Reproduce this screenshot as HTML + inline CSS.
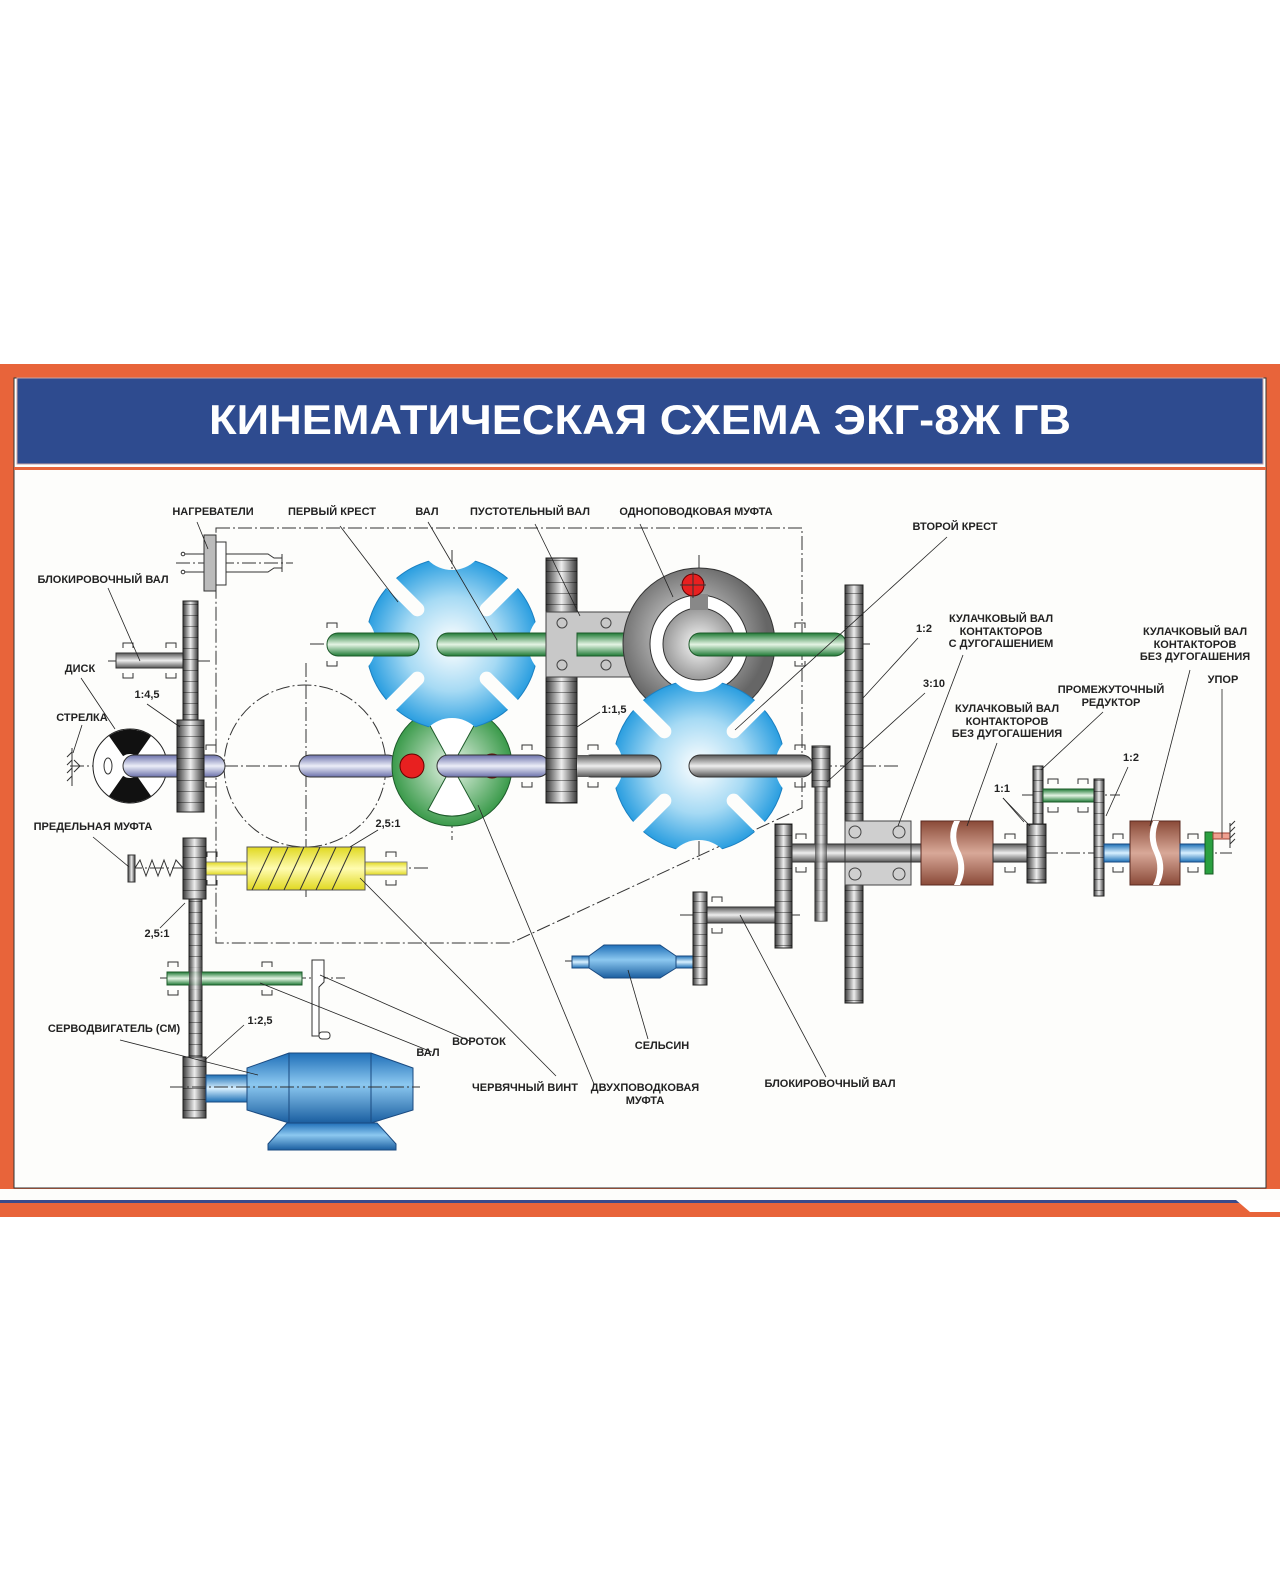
<!DOCTYPE html>
<html><head><meta charset="utf-8"><style>
html,body{margin:0;padding:0;background:#fff}
svg{display:block}
text{font-family:"Liberation Sans",Arial,sans-serif;font-weight:bold;font-size:11px;fill:#222}
</style></head><body>
<svg width="1280" height="1581" viewBox="0 0 1280 1581" xmlns="http://www.w3.org/2000/svg">
<defs>
<linearGradient id="gG" x1="0" y1="0" x2="1" y2="0"><stop offset="0" stop-color="#3a3a3a"/><stop offset=".5" stop-color="#eeeeee"/><stop offset="1" stop-color="#3a3a3a"/></linearGradient>
<pattern id="teeth" patternUnits="userSpaceOnUse" width="10" height="11"><line x1="0" y1="10.5" x2="10" y2="10.5" stroke="#000" stroke-width="1" opacity=".4"/></pattern>
<linearGradient id="shG" x1="0" y1="0" x2="0" y2="1"><stop offset="0" stop-color="#1f7a35"/><stop offset=".5" stop-color="#e4f4e4"/><stop offset="1" stop-color="#1f7a35"/></linearGradient>
<linearGradient id="shL" x1="0" y1="0" x2="0" y2="1"><stop offset="0" stop-color="#6a70aa"/><stop offset=".5" stop-color="#eceef8"/><stop offset="1" stop-color="#6a70aa"/></linearGradient>
<linearGradient id="shS" x1="0" y1="0" x2="0" y2="1"><stop offset="0" stop-color="#555"/><stop offset=".5" stop-color="#eee"/><stop offset="1" stop-color="#555"/></linearGradient>
<linearGradient id="shB" x1="0" y1="0" x2="0" y2="1"><stop offset="0" stop-color="#1c6fb5"/><stop offset=".5" stop-color="#d8f0ff"/><stop offset="1" stop-color="#1c6fb5"/></linearGradient>
<linearGradient id="shY" x1="0" y1="0" x2="0" y2="1"><stop offset="0" stop-color="#e0d820"/><stop offset=".5" stop-color="#fffcb0"/><stop offset="1" stop-color="#e0d820"/></linearGradient>
<linearGradient id="camG" x1="0" y1="0" x2="0" y2="1"><stop offset="0" stop-color="#8a4a38"/><stop offset=".5" stop-color="#d8a898"/><stop offset="1" stop-color="#8a4a38"/></linearGradient>
<linearGradient id="motG" x1="0" y1="0" x2="0" y2="1"><stop offset="0" stop-color="#1f6fb8"/><stop offset=".45" stop-color="#8cc8f0"/><stop offset="1" stop-color="#1a5ea0"/></linearGradient>
<radialGradient id="crG"><stop offset="0" stop-color="#ffffff"/><stop offset=".55" stop-color="#a6daf4"/><stop offset="1" stop-color="#2a9ee0"/></radialGradient>
<radialGradient id="cpG" cx=".45" cy=".45"><stop offset="0" stop-color="#eee"/><stop offset="1" stop-color="#666"/></radialGradient>
<radialGradient id="inG" cx=".5" cy=".5"><stop offset="0" stop-color="#fafafa"/><stop offset="1" stop-color="#999"/></radialGradient>
<radialGradient id="grG"><stop offset="0" stop-color="#eaf6ea"/><stop offset="1" stop-color="#3a9a4a"/></radialGradient>
<mask id="cm" maskUnits="userSpaceOnUse" x="-110" y="-110" width="220" height="220">
<rect x="-110" y="-110" width="220" height="220" fill="#fff"/>
<circle cx="0" cy="-108" r="34" fill="#000"/><circle cx="0" cy="108" r="34" fill="#000"/>
<circle cx="-112" cy="0" r="36" fill="#000"/><circle cx="112" cy="0" r="36" fill="#000"/>
<g fill="#000">
<rect x="42" y="-7" width="70" height="14" rx="7" transform="rotate(-45)"/>
<rect x="42" y="-7" width="70" height="14" rx="7" transform="rotate(-135)"/>
<rect x="42" y="-7" width="70" height="14" rx="7" transform="rotate(45)"/>
<rect x="42" y="-7" width="70" height="14" rx="7" transform="rotate(135)"/>
</g></mask>
</defs>

<rect x="0" y="364" width="1280" height="853" fill="#e8643a"/>
<rect x="14" y="378" width="1252" height="810" fill="#fdfdfb" stroke="#333" stroke-width="1"/>
<rect x="17" y="378" width="1246" height="86" fill="#2e4b8f" stroke="#c9a3a3" stroke-width="1"/>
<rect x="14" y="467" width="1252" height="3" fill="#e8643a"/>
<rect x="0" y="1189" width="1280" height="11" fill="#fdfdfb"/>
<rect x="0" y="1200" width="1280" height="3" fill="#3a4a8a"/>
<rect x="0" y="1203" width="1280" height="14" fill="#e8643a"/>
<path d="M1236 1200 L1280 1200 L1280 1212 L1250 1212 Z" fill="#fff"/>
<text x="640" y="434" text-anchor="middle" textLength="862" lengthAdjust="spacingAndGlyphs" style="font-size:42px;fill:#fff">КИНЕМАТИЧЕСКАЯ СХЕМА ЭКГ-8Ж ГВ</text>

<g fill="none" stroke="#333" stroke-width="1" stroke-dasharray="14 3 2 3">
<path d="M216 528 L802 528 L802 808 L511 943 L216 943 Z"/>
<circle cx="305" cy="766" r="81"/>
<line x1="176" y1="563" x2="293" y2="563"/>
<line x1="108" y1="661" x2="213" y2="661"/>
<line x1="310" y1="644" x2="870" y2="644"/>
<line x1="70" y1="766" x2="900" y2="766"/>
<line x1="128" y1="868" x2="430" y2="868"/>
<line x1="160" y1="978" x2="345" y2="978"/>
<line x1="170" y1="1087" x2="420" y2="1087"/>
<line x1="780" y1="853" x2="1232" y2="853"/>
<line x1="1022" y1="795" x2="1120" y2="795"/>
<line x1="680" y1="915" x2="800" y2="915"/>
<line x1="565" y1="961" x2="705" y2="961"/>
<line x1="452" y1="550" x2="452" y2="840"/>
<line x1="699" y1="555" x2="699" y2="860"/>
<line x1="306" y1="663" x2="306" y2="900"/>
</g>

<g stroke="#333" stroke-width="1">
<rect x="204" y="535" width="12" height="56" fill="#bbb"/>
<rect x="216" y="542" width="10" height="43" fill="#fff"/>
<path d="M226 554 L268 554 L274 558 L282 558 M226 572 L268 572 L274 568 L282 568 M282 554 L282 572" fill="none"/>
<line x1="183" y1="554" x2="204" y2="554"/><line x1="183" y1="572" x2="204" y2="572"/>
<circle cx="183" cy="554" r="1.8" fill="#fff"/><circle cx="183" cy="572" r="1.8" fill="#fff"/>
</g>

<rect x="116" y="653" width="67" height="15" fill="url(#shS)" stroke="#333"/>
<rect x="183" y="601" width="15" height="119" fill="url(#gG)" stroke="#222"/><rect x="183" y="601" width="15" height="119" fill="url(#teeth)"/>

<circle cx="130" cy="766" r="37" fill="#fff" stroke="#222"/>
<path d="M130 766 L109 736 A37 37 0 0 1 151 736 Z M130 766 L109 796 A37 37 0 0 0 151 796 Z" fill="#111"/>
<circle cx="130" cy="766" r="12" fill="#fff"/>
<ellipse cx="108" cy="766" rx="4" ry="8" fill="none" stroke="#333"/>
<path d="M80 766 L74 760 M80 766 L74 772 M72 748 L72 786" stroke="#333" fill="none"/>
<path d="M72 752 l-5 5 M72 760 l-5 5 M72 768 l-5 5 M72 776 l-5 5" stroke="#333"/>
<rect x="123" y="755" width="102" height="22" rx="11" fill="url(#shL)" stroke="#333"/>
<rect x="177" y="720" width="27" height="92" fill="url(#gG)" stroke="#222"/><rect x="177" y="720" width="27" height="92" fill="url(#teeth)"/>

<rect x="299" y="755" width="100" height="22" rx="11" fill="url(#shL)" stroke="#333"/>

<circle cx="452" cy="766" r="60" fill="url(#grG)" stroke="#1d5a2a"/>
<path d="M452 766 L428 722 A50 50 0 0 1 476 722 Z M452 766 L428 810 A50 50 0 0 0 476 810 Z" fill="#fff" stroke="#1d5a2a"/>
<circle cx="412" cy="766" r="12" fill="#e82020" stroke="#600"/>
<circle cx="492" cy="766" r="12" fill="#e82020" stroke="#600"/>
<rect x="437" y="755" width="112" height="22" rx="11" fill="url(#shL)" stroke="#333"/>

<g transform="translate(452,644)"><circle r="86" fill="url(#crG)" stroke="#1a7fc0" mask="url(#cm)"/></g>

<rect x="327" y="633" width="92" height="23" rx="11" fill="url(#shG)" stroke="#1d5a2a"/>
<rect x="437" y="633" width="190" height="23" rx="11" fill="url(#shG)" stroke="#1d5a2a"/>

<rect x="546" y="558" width="31" height="245" fill="url(#gG)" stroke="#222"/><rect x="546" y="558" width="31" height="245" fill="url(#teeth)"/>
<rect x="546" y="612" width="84" height="65" fill="#c8c8c8" stroke="#444"/>
<g fill="none" stroke="#444"><circle cx="562" cy="623" r="5"/><circle cx="606" cy="623" r="5"/><circle cx="562" cy="665" r="5"/><circle cx="606" cy="665" r="5"/></g>
<rect x="577" y="633" width="50" height="23" fill="url(#shG)" stroke="#1d5a2a"/>

<circle cx="699" cy="644" r="76" fill="url(#cpG)" stroke="#333"/>
<circle cx="699" cy="644" r="49" fill="#fff" stroke="#333"/>
<circle cx="699" cy="644" r="36" fill="url(#inG)" stroke="#333"/>
<rect x="690" y="594" width="18" height="16" fill="#888"/>
<circle cx="693" cy="585" r="11" fill="#e82020" stroke="#600"/>
<path d="M680 585 L706 585 M693 572 L693 598" stroke="#333"/>

<g transform="translate(699,766)"><circle r="86" fill="url(#crG)" stroke="#1a7fc0" mask="url(#cm)"/></g>
<rect x="689" y="633" width="157" height="23" rx="11" fill="url(#shG)" stroke="#1d5a2a"/>
<rect x="580" y="755" width="81" height="22" rx="11" fill="url(#shS)" stroke="#333"/>
<rect x="689" y="755" width="124" height="22" rx="11" fill="url(#shS)" stroke="#333"/>
<rect x="577" y="755" width="12" height="22" fill="url(#shS)"/>

<rect x="845" y="585" width="18" height="418" fill="url(#gG)" stroke="#222"/><rect x="845" y="585" width="18" height="418" fill="url(#teeth)"/>
<rect x="815" y="787" width="12" height="134" fill="url(#gG)" stroke="#222"/><rect x="815" y="787" width="12" height="134" fill="url(#teeth)"/>
<rect x="812" y="746" width="18" height="41" fill="url(#gG)" stroke="#222"/><rect x="812" y="746" width="18" height="41" fill="url(#teeth)"/>

<rect x="707" y="907" width="68" height="16" fill="url(#shS)" stroke="#333"/>
<rect x="775" y="824" width="17" height="124" fill="url(#gG)" stroke="#222"/><rect x="775" y="824" width="17" height="124" fill="url(#teeth)"/>
<rect x="792" y="844" width="129" height="18" fill="url(#shS)" stroke="#333"/>
<rect x="815" y="787" width="12" height="134" fill="url(#gG)" opacity=".7"/>
<rect x="845" y="821" width="66" height="64" fill="#cfcfcf" stroke="#444"/>
<g fill="none" stroke="#444"><circle cx="855" cy="832" r="6"/><circle cx="899" cy="832" r="6"/><circle cx="855" cy="874" r="6"/><circle cx="899" cy="874" r="6"/></g>
<rect x="845" y="844" width="66" height="18" fill="url(#shS)" stroke="#333"/>
<rect x="921" y="821" width="72" height="64" fill="url(#camG)" stroke="#5a2a20"/>
<path d="M954 821 Q946 837 955 853 Q962 869 954 885 L960 885 Q968 869 961 853 Q952 837 960 821 Z" fill="#fff"/>
<rect x="993" y="844" width="34" height="18" fill="url(#shS)" stroke="#333"/>
<rect x="1027" y="824" width="19" height="59" fill="url(#gG)" stroke="#222"/><rect x="1027" y="824" width="19" height="59" fill="url(#teeth)"/>
<rect x="1033" y="766" width="10" height="58" fill="url(#gG)" stroke="#222"/><rect x="1033" y="766" width="10" height="58" fill="url(#teeth)"/>
<rect x="1043" y="789" width="51" height="13" fill="url(#shG)" stroke="#1d5a2a"/>
<rect x="1094" y="779" width="10" height="117" fill="url(#gG)" stroke="#222"/><rect x="1094" y="779" width="10" height="117" fill="url(#teeth)"/>
<rect x="1104" y="844" width="26" height="18" fill="url(#shB)" stroke="#1a4a80"/>
<rect x="1130" y="821" width="50" height="64" fill="url(#camG)" stroke="#5a2a20"/>
<path d="M1153 821 Q1146 837 1154 853 Q1161 869 1153 885 L1159 885 Q1167 869 1160 853 Q1152 837 1159 821 Z" fill="#fff"/>
<rect x="1180" y="844" width="25" height="18" fill="url(#shB)" stroke="#1a4a80"/>
<rect x="1205" y="832" width="8" height="42" fill="#2aa040" stroke="#165a22"/>
<rect x="1213" y="833" width="17" height="6" fill="#f0a090" stroke="#a04030"/>
<path d="M1230 823 L1230 848 M1230 826 l5 -5 M1230 832 l5 -5 M1230 838 l5 -5 M1230 844 l5 -5" stroke="#333"/>

<rect x="572" y="956" width="121" height="12" fill="url(#shB)" stroke="#1a4a80"/>
<path d="M589 956 L604 945 L660 945 L676 956 L676 968 L660 978 L604 978 L589 968 Z" fill="url(#motG)" stroke="#1a4a80"/>
<rect x="693" y="892" width="14" height="93" fill="url(#gG)" stroke="#222"/><rect x="693" y="892" width="14" height="93" fill="url(#teeth)"/>

<rect x="206" y="862" width="201" height="13" fill="url(#shY)" stroke="#888"/>
<rect x="247" y="847" width="118" height="43" fill="url(#shY)" stroke="#555"/>
<g stroke="#333"><line x1="252" y1="890" x2="272" y2="847"/><line x1="268" y1="890" x2="288" y2="847"/><line x1="284" y1="890" x2="304" y2="847"/><line x1="300" y1="890" x2="320" y2="847"/><line x1="316" y1="890" x2="336" y2="847"/><line x1="332" y1="890" x2="352" y2="847"/></g>
<rect x="128" y="855" width="7" height="27" fill="url(#gG)" stroke="#333"/>
<path d="M135 868 L140 860 L146 876 L152 860 L158 876 L164 860 L170 876 L176 860 L183 868" fill="none" stroke="#333"/>
<rect x="189" y="899" width="13" height="159" fill="url(#gG)" stroke="#222"/><rect x="189" y="899" width="13" height="159" fill="url(#teeth)"/>
<rect x="183" y="838" width="23" height="61" fill="url(#gG)" stroke="#222"/><rect x="183" y="838" width="23" height="61" fill="url(#teeth)"/>

<rect x="167" y="972" width="135" height="13" fill="url(#shG)" stroke="#1d5a2a"/>
<rect x="189" y="960" width="13" height="30" fill="url(#gG)" opacity=".8"/>
<path d="M312 960 L324 960 L324 982 L319 987 L319 1036 L312 1036 Z" fill="#fff" stroke="#333"/>
<rect x="319" y="1032" width="11" height="7" rx="3" fill="#fff" stroke="#333"/>

<rect x="183" y="1057" width="23" height="61" fill="url(#gG)" stroke="#222"/><rect x="183" y="1057" width="23" height="61" fill="url(#teeth)"/>
<rect x="206" y="1075" width="41" height="27" fill="url(#shB)" stroke="#1a4a80"/>
<path d="M268 1150 L396 1150 L396 1144 L377 1123 L287 1123 L268 1144 Z" fill="url(#motG)" stroke="#1a4a80"/>
<path d="M247 1068 L289 1053 L371 1053 L413 1068 L413 1110 L371 1123 L289 1123 L247 1110 Z" fill="url(#motG)" stroke="#1a4a80"/>
<path d="M289 1053 L289 1123 M371 1053 L371 1123" stroke="#1a4a80"/>
<line x1="170" y1="1087" x2="420" y2="1087" stroke="#333" stroke-dasharray="14 3 2 3"/>

<g fill="none" stroke="#333" stroke-width="1">
<path d="M123 648 v-5 h10 v5 M123 673 v5 h10 v-5 M166 648 v-5 h10 v5 M166 673 v5 h10 v-5"/>
<path d="M206 750 v-5 h10 v5 M206 782 v5 h10 v-5"/>
<path d="M327 628 v-5 h10 v5 M327 661 v5 h10 v-5 M795 628 v-5 h10 v5 M795 661 v5 h10 v-5"/>
<path d="M522 750 v-5 h10 v5 M522 782 v5 h10 v-5 M588 750 v-5 h10 v5 M588 782 v5 h10 v-5 M795 750 v-5 h10 v5 M795 782 v5 h10 v-5"/>
<path d="M207 857 v-5 h10 v5 M207 880 v5 h10 v-5 M386 857 v-5 h10 v5 M386 880 v5 h10 v-5"/>
<path d="M168 967 v-5 h10 v5 M168 990 v5 h10 v-5 M262 967 v-5 h10 v5 M262 990 v5 h10 v-5"/>
<path d="M796 839 v-5 h10 v5 M796 867 v5 h10 v-5 M1005 839 v-5 h10 v5 M1005 867 v5 h10 v-5 M1113 839 v-5 h10 v5 M1113 867 v5 h10 v-5 M1188 839 v-5 h10 v5 M1188 867 v5 h10 v-5"/>
<path d="M1048 784 v-5 h10 v5 M1048 807 v5 h10 v-5 M1078 784 v-5 h10 v5 M1078 807 v5 h10 v-5"/>
<path d="M712 902 v-5 h10 v5 M712 928 v5 h10 v-5"/>
</g>

<g stroke="#222" stroke-width="0.8" fill="none">
<line x1="197" y1="522" x2="208" y2="549"/>
<line x1="340" y1="526" x2="398" y2="602"/>
<line x1="428" y1="522" x2="497" y2="640"/>
<line x1="535" y1="524" x2="580" y2="616"/>
<line x1="640" y1="524" x2="673" y2="597"/>
<line x1="947" y1="537" x2="735" y2="730"/>
<line x1="918" y1="638" x2="863" y2="698"/>
<line x1="925" y1="693" x2="827" y2="782"/>
<line x1="963" y1="655" x2="898" y2="826"/>
<line x1="997" y1="743" x2="967" y2="826"/>
<line x1="1103" y1="712" x2="1041" y2="770"/>
<line x1="1190" y1="670" x2="1150" y2="826"/>
<line x1="1222" y1="689" x2="1222" y2="838"/>
<line x1="1003" y1="798" x2="1030" y2="826"/>
<line x1="1003" y1="798" x2="1024" y2="822"/>
<line x1="1128" y1="767" x2="1106" y2="816"/>
<line x1="108" y1="588" x2="140" y2="661"/>
<line x1="81" y1="678" x2="115" y2="729"/>
<line x1="82" y1="725" x2="73" y2="753"/>
<line x1="147" y1="704" x2="180" y2="727"/>
<line x1="93" y1="837" x2="129" y2="867"/>
<line x1="378" y1="830" x2="350" y2="847"/>
<line x1="160" y1="928" x2="185" y2="903"/>
<line x1="600" y1="712" x2="577" y2="727"/>
<line x1="556" y1="1076" x2="360" y2="878"/>
<line x1="594" y1="1084" x2="478" y2="805"/>
<line x1="648" y1="1039" x2="628" y2="970"/>
<line x1="826" y1="1077" x2="740" y2="915"/>
<line x1="472" y1="1042" x2="320" y2="975"/>
<line x1="432" y1="1052" x2="260" y2="983"/>
<line x1="120" y1="1040" x2="258" y2="1075"/>
<line x1="244" y1="1025" x2="205" y2="1060"/>
</g>

<g text-anchor="middle">
<text x="213" y="515">НАГРЕВАТЕЛИ</text>
<text x="332" y="515">ПЕРВЫЙ КРЕСТ</text>
<text x="427" y="515">ВАЛ</text>
<text x="530" y="515">ПУСТОТЕЛЬНЫЙ ВАЛ</text>
<text x="696" y="515">ОДНОПОВОДКОВАЯ МУФТА</text>
<text x="955" y="530">ВТОРОЙ КРЕСТ</text>
<text x="103" y="583">БЛОКИРОВОЧНЫЙ ВАЛ</text>
<text x="80" y="672">ДИСК</text>
<text x="147" y="698">1:4,5</text>
<text x="82" y="721">СТРЕЛКА</text>
<text x="924" y="632">1:2</text>
<text x="934" y="687">3:10</text>
<text x="1001" y="622">КУЛАЧКОВЫЙ ВАЛ</text>
<text x="1001" y="635">КОНТАКТОРОВ</text>
<text x="1001" y="647">С ДУГОГАШЕНИЕМ</text>
<text x="1007" y="712">КУЛАЧКОВЫЙ ВАЛ</text>
<text x="1007" y="725">КОНТАКТОРОВ</text>
<text x="1007" y="737">БЕЗ ДУГОГАШЕНИЯ</text>
<text x="1111" y="693">ПРОМЕЖУТОЧНЫЙ</text>
<text x="1111" y="706">РЕДУКТОР</text>
<text x="1195" y="635">КУЛАЧКОВЫЙ ВАЛ</text>
<text x="1195" y="648">КОНТАКТОРОВ</text>
<text x="1195" y="660">БЕЗ ДУГОГАШЕНИЯ</text>
<text x="1223" y="683">УПОР</text>
<text x="1002" y="792">1:1</text>
<text x="1131" y="761">1:2</text>
<text x="614" y="713">1:1,5</text>
<text x="93" y="830">ПРЕДЕЛЬНАЯ МУФТА</text>
<text x="388" y="827">2,5:1</text>
<text x="157" y="937">2,5:1</text>
<text x="114" y="1032">СЕРВОДВИГАТЕЛЬ (СМ)</text>
<text x="260" y="1024">1:2,5</text>
<text x="479" y="1045">ВОРОТОК</text>
<text x="428" y="1056">ВАЛ</text>
<text x="525" y="1091">ЧЕРВЯЧНЫЙ ВИНТ</text>
<text x="645" y="1091">ДВУХПОВОДКОВАЯ</text>
<text x="645" y="1104">МУФТА</text>
<text x="662" y="1049">СЕЛЬСИН</text>
<text x="830" y="1087">БЛОКИРОВОЧНЫЙ ВАЛ</text>
</g>
</svg>
</body></html>
